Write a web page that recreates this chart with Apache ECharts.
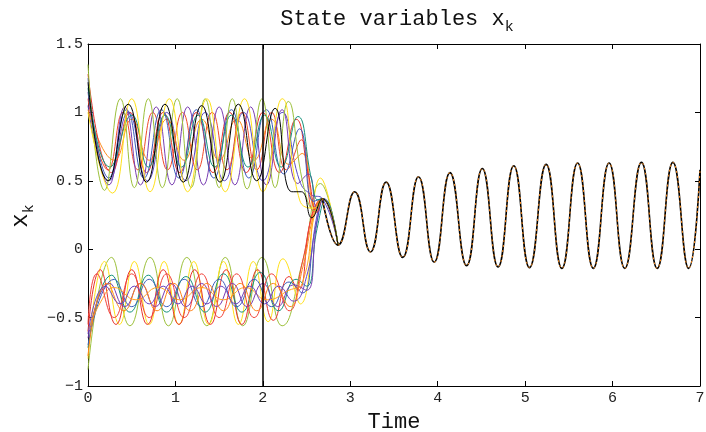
<!DOCTYPE html>
<html lang="en">
<head>
<meta charset="UTF-8">
<title>State variables x_k</title>
<script src="https://cdn.jsdelivr.net/npm/echarts@6/dist/echarts.min.js"></script>
</head>
<body style="margin:0">
<div id="container" style="width:706px;height:432px"></div>
<script>
// upper group of states, [time, x] read at each peak / trough
var u1 = [[0,1.22],[0.23,0.5],[0.46,1.06],[0.67,0.49],[0.88,1.06],[1.09,0.49],[1.30,1.05],[1.51,0.49],[1.72,1.06],[1.93,0.5],[2.14,1.03],[2.33,0.42],[2.44,0.42],[2.56,0.23],[2.68,0.37],[2.86,0.03]];
var u2 = [[0,1.0],[0.28,0.41],[0.50,1.1],[0.71,0.42],[0.93,1.1],[1.14,0.42],[1.36,1.1],[1.57,0.42],[1.79,1.1],[2.0,0.42],[2.22,1.1],[2.42,0.36],[2.58,0.3],[2.68,0.37],[2.86,0.03]];
var u3 = [[0,1.35],[0.19,0.43],[0.37,1.1],[0.53,0.45],[0.69,1.1],[0.85,0.45],[1.02,1.1],[1.18,0.45],[1.34,1.1],[1.50,0.45],[1.65,1.1],[1.82,0.44],[1.99,1.1],[2.14,0.45],[2.29,1.08],[2.47,0.45],[2.6,0.28],[2.68,0.37],[2.86,0.03]];
var u4 = [[0,1.18],[0.25,0.6],[0.50,0.98],[0.69,0.6],[0.88,0.98],[1.07,0.6],[1.26,0.98],[1.45,0.6],[1.64,0.98],[1.83,0.6],[2.02,0.98],[2.21,0.6],[2.40,0.97],[2.56,0.5],[2.63,0.36],[2.68,0.37],[2.86,0.03]];
var u5 = [[0,1.25],[0.24,0.52],[0.44,1.02],[0.64,0.52],[0.84,1.02],[1.04,0.52],[1.24,1.02],[1.44,0.52],[1.64,1.02],[1.84,0.52],[2.04,1.02],[2.24,0.55],[2.42,0.88],[2.58,0.35],[2.68,0.37],[2.86,0.03]];
var u6 = [[0,1.15],[0.24,0.47],[0.42,1.04],[0.60,0.47],[0.78,1.04],[0.96,0.47],[1.14,1.04],[1.32,0.47],[1.50,1.04],[1.68,0.47],[1.86,1.04],[2.04,0.47],[2.22,1.02],[2.40,0.48],[2.52,0.55],[2.62,0.3],[2.68,0.37],[2.86,0.03]];
var u7 = [[0,1.28],[0.27,0.56],[0.48,1.0],[0.67,0.56],[0.86,1.0],[1.05,0.56],[1.24,1.0],[1.43,0.56],[1.62,1.0],[1.81,0.56],[2.00,1.0],[2.19,0.56],[2.38,0.95],[2.52,0.55],[2.62,0.27],[2.68,0.37],[2.86,0.03]];
var u8 = [[0,1.02],[0.3,0.65],[0.5,0.95],[0.7,0.65],[0.9,0.95],[1.1,0.65],[1.3,0.95],[1.5,0.65],[1.7,0.95],[1.9,0.65],[2.1,0.95],[2.3,0.62],[2.45,0.7],[2.6,0.3],[2.68,0.37],[2.86,0.03]];
var u9 = [[0,1.1],[0.23,0.58],[0.40,1.0],[0.57,0.58],[0.74,1.0],[0.91,0.58],[1.08,1.0],[1.25,0.58],[1.42,1.0],[1.59,0.58],[1.76,1.0],[1.93,0.58],[2.10,1.0],[2.27,0.58],[2.44,0.8],[2.58,0.28],[2.68,0.37],[2.86,0.03]];
var u10 = [[0,1.05],[0.24,0.5],[0.46,1.0],[0.68,0.5],[0.90,1.0],[1.12,0.5],[1.34,1.0],[1.56,0.5],[1.78,1.0],[2.0,0.5],[2.22,1.0],[2.42,0.5],[2.55,0.4],[2.68,0.37],[2.86,0.03]];

// lower group of states
var l1 = [[0,-0.88],[0.27,-0.06],[0.48,-0.56],[0.71,-0.06],[0.92,-0.56],[1.13,-0.06],[1.36,-0.56],[1.57,-0.06],[1.77,-0.56],[1.99,-0.06],[2.22,-0.56],[2.45,-0.1],[2.66,0.48],[2.86,0.03]];
var l2 = [[0,-0.8],[0.19,-0.09],[0.36,-0.55],[0.53,-0.09],[0.70,-0.55],[0.87,-0.09],[1.04,-0.55],[1.21,-0.09],[1.38,-0.55],[1.55,-0.09],[1.72,-0.55],[1.89,-0.09],[2.06,-0.53],[2.23,-0.07],[2.43,-0.4],[2.66,0.52],[2.86,0.03]];
var l3 = [[0,-0.6],[0.14,-0.15],[0.32,-0.55],[0.50,-0.15],[0.68,-0.55],[0.86,-0.15],[1.04,-0.55],[1.22,-0.15],[1.40,-0.55],[1.58,-0.15],[1.76,-0.55],[1.94,-0.15],[2.12,-0.52],[2.30,-0.2],[2.40,-0.3],[2.56,0.25],[2.68,0.37],[2.86,0.03]];
var l4 = [[0,-0.72],[0.27,-0.19],[0.48,-0.46],[0.69,-0.19],[0.90,-0.46],[1.12,-0.2],[1.34,-0.46],[1.55,-0.18],[1.76,-0.46],[1.97,-0.17],[2.18,-0.45],[2.38,-0.22],[2.5,-0.27],[2.62,0.15],[2.72,0.36],[2.86,0.03]];
var l5 = [[0,-0.65],[0.25,-0.25],[0.42,-0.42],[0.6,-0.25],[0.77,-0.42],[0.95,-0.25],[1.12,-0.42],[1.3,-0.25],[1.47,-0.42],[1.65,-0.25],[1.82,-0.42],[2.0,-0.25],[2.17,-0.42],[2.35,-0.26],[2.5,-0.3],[2.62,0.2],[2.7,0.37],[2.86,0.03]];
var l6 = [[0,-0.7],[0.3,-0.22],[0.5,-0.42],[0.7,-0.22],[0.9,-0.42],[1.1,-0.22],[1.3,-0.42],[1.5,-0.22],[1.7,-0.42],[1.9,-0.22],[2.1,-0.42],[2.3,-0.24],[2.45,-0.32],[2.6,0.15],[2.7,0.37],[2.86,0.03]];
var l7 = [[0,-0.6],[0.15,-0.38],[0.3,-0.28],[0.55,-0.37],[0.8,-0.28],[1.05,-0.37],[1.3,-0.28],[1.55,-0.37],[1.8,-0.28],[2.05,-0.37],[2.3,-0.3],[2.45,-0.25],[2.6,0.28],[2.68,0.37],[2.86,0.03]];
var l8 = [[0,-0.55],[0.1,-0.18],[0.3,-0.5],[0.5,-0.18],[0.7,-0.5],[0.9,-0.18],[1.1,-0.5],[1.3,-0.18],[1.5,-0.5],[1.7,-0.18],[1.9,-0.5],[2.1,-0.18],[2.3,-0.45],[2.45,-0.1],[2.58,0.28],[2.68,0.37],[2.86,0.03]];
var l9 = [[0,-0.78],[0.22,-0.25],[0.41,-0.45],[0.6,-0.25],[0.79,-0.45],[0.98,-0.25],[1.17,-0.45],[1.36,-0.25],[1.55,-0.45],[1.74,-0.25],[1.93,-0.45],[2.12,-0.25],[2.31,-0.42],[2.45,-0.15],[2.6,0.3],[2.68,0.37],[2.86,0.03]];
var l10 = [[0,-0.62],[0.2,-0.27],[0.37,-0.4],[0.53,-0.27],[0.70,-0.4],[0.86,-0.27],[1.03,-0.4],[1.19,-0.27],[1.36,-0.4],[1.52,-0.27],[1.69,-0.4],[1.85,-0.27],[2.02,-0.4],[2.18,-0.27],[2.35,-0.38],[2.5,-0.2],[2.62,0.25],[2.68,0.37],[2.86,0.03]];

// after consensus every state follows the same trajectory
var tail = [[2.68,0.37],[2.86,0.03],[3.05,0.42],[3.23,-0.02],[3.41,0.49],[3.60,-0.06],[3.78,0.53],[3.96,-0.095],[4.14,0.56],[4.33,-0.12],[4.51,0.59],[4.69,-0.13],[4.87,0.61],[5.05,-0.135],[5.24,0.62],[5.42,-0.14],[5.60,0.63],[5.78,-0.14],[5.96,0.63],[6.14,-0.14],[6.33,0.635],[6.51,-0.14],[6.69,0.635],[6.87,-0.14],[7.0,0.58]];

var states = [l1, l2, l3, l4, l5, l6, l7, l8, l9, l10, u10, u9, u8, u7, u6, u5, u4, u3, u2, u1];
var colors = ['#9dc13c', '#ffe11a', '#e8332c', '#14937c', '#7a3eb2', '#3b5cbc', '#ffa424', '#f2423a', '#ff8418', '#6c45c0',
              '#5b4bc4', '#f04a2a', '#ff8c1a', '#e8332c', '#7a3eb2', '#3b5cbc', '#14937c', '#9dc13c', '#ffe11a', '#000000'];

var font = 'Liberation Mono';
var myChart = echarts.init(document.getElementById('container'));

var series = states.map(function (d, i) {
    return {
        type: 'line', data: d, smooth: true, symbol: 'none',
        lineStyle: { width: 1, color: colors[i] }
    };
});
series.push({
    type: 'line', data: tail, smooth: true, symbol: 'none',
    lineStyle: { width: 1.6, color: '#000' }
});
series.push({
    type: 'line', data: tail, smooth: true, symbol: 'none',
    lineStyle: { width: 1, color: '#ff8c1a', type: [2, 3] },
    markLine: {
        silent: true, symbol: 'none', label: { show: false },
        lineStyle: { color: '#000', width: 1.5, type: 'solid' },
        data: [{ xAxis: 2 }]
    }
});

function minus(v) { return String(v).replace('-', '\u2212'); }

var frame = { show: true, onZero: false, lineStyle: { color: '#000', width: 1 } };
var ticks = { show: true, inside: true, length: 5, lineStyle: { color: '#000' } };

myChart.setOption({
    animation: false,
    backgroundColor: '#fff',
    grid: { left: 88, right: 6, top: 44, bottom: 46, containLabel: false, outerBoundsMode: 'none' },
    xAxis: [{
        type: 'value', min: 0, max: 7, interval: 1, position: 'bottom',
        axisLine: frame, axisTick: ticks, splitLine: { show: false },
        axisLabel: { color: '#222', fontFamily: font, fontSize: 15, margin: 5, formatter: minus },
        name: 'Time', nameLocation: 'middle', nameGap: 19,
        nameTextStyle: { color: '#111', fontFamily: font, fontSize: 22 }
    }, {
        type: 'value', min: 0, max: 7, interval: 1, position: 'top',
        axisLine: frame, axisTick: ticks, axisLabel: { show: false }, splitLine: { show: false }
    }],
    yAxis: [{
        type: 'value', min: -1, max: 1.5, interval: 0.5, position: 'left',
        axisLine: frame, axisTick: ticks, splitLine: { show: false },
        axisLabel: { color: '#222', fontFamily: font, fontSize: 15, margin: 5, formatter: minus }
    }, {
        type: 'value', min: -1, max: 1.5, interval: 0.5, position: 'right',
        axisLine: frame, axisTick: ticks, axisLabel: { show: false }, splitLine: { show: false }
    }],
    graphic: [{
        type: 'text', x: 397, y: 4,
        style: {
            text: '{a|State variables x}{b|k}', align: 'center', verticalAlign: 'top',
            rich: {
                a: { fontFamily: font, fontSize: 22, fill: '#111', lineHeight: 26 },
                b: { fontFamily: font, fontSize: 15, fill: '#111', padding: [16, 0, 0, 0] }
            }
        }
    }, {
        type: 'text', x: 21, y: 216, rotation: Math.PI / 2,
        style: {
            text: '{a|x}{b|k}', align: 'center', verticalAlign: 'middle',
            rich: {
                a: { fontFamily: font, fontSize: 24, fill: '#111', lineHeight: 26 },
                b: { fontFamily: font, fontSize: 15, fill: '#111', padding: [16, 0, 0, 0] }
            }
        }
    }],
    series: series
});
</script>
</body>
</html>
